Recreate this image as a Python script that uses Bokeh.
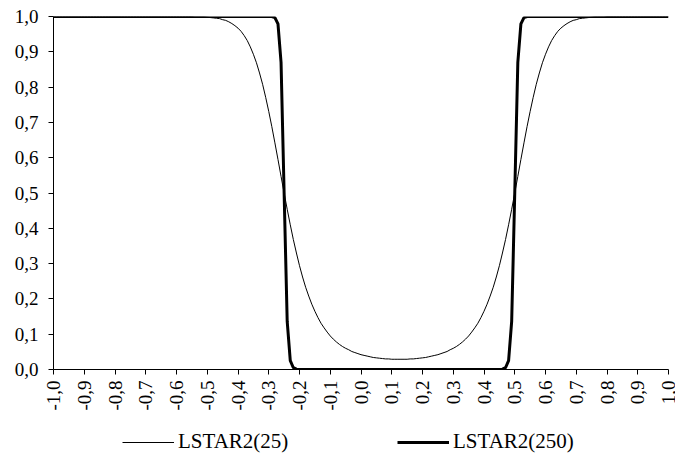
from bokeh.plotting import figure
from bokeh.layouts import column
from bokeh.models import ColumnDataSource, FixedTicker, CustomJSTickFormatter, Legend, LegendItem, Range1d
from bokeh.embed import file_html
from bokeh.resources import INLINE
import math

# category grid (-1.00 .. 1.00, step 0.01)
x_values = [round(i / 100, 2) for i in range(-100, 101)]

lstar2_25 = [
    1.0, 1.0, 1.0, 1.0, 1.0, 1.0, 1.0, 1.0, 1.0, 1.0,
    1.0, 1.0, 1.0, 1.0, 1.0, 1.0, 1.0, 1.0, 1.0, 1.0,
    1.0, 1.0, 1.0, 1.0, 1.0, 1.0, 1.0, 1.0, 1.0, 1.0,
    1.0, 1.0, 1.0, 1.0, 1.0, 1.0, 1.0, 1.0, 1.0, 1.0,
    1.000, 1.000, 1.000, 1.000, 1.000, 1.000, 0.999, 0.999, 0.999, 0.999,
    0.998, 0.997, 0.996, 0.995, 0.994, 0.991, 0.989, 0.985, 0.980, 0.974,
    0.967, 0.958, 0.946, 0.932, 0.914, 0.893, 0.869, 0.840, 0.808, 0.771,
    0.731, 0.688, 0.642, 0.595, 0.547, 0.500, 0.454, 0.410, 0.368, 0.330,
    0.294, 0.262, 0.233, 0.208, 0.185, 0.165, 0.147, 0.131, 0.118, 0.106,
    0.095, 0.086, 0.078, 0.071, 0.065, 0.060, 0.056, 0.051, 0.048, 0.045,
    0.042, 0.040, 0.038, 0.036, 0.034, 0.033, 0.032, 0.031, 0.030, 0.030,
    0.029, 0.029, 0.029, 0.029, 0.029, 0.029, 0.030, 0.030, 0.031, 0.032,
    0.033, 0.034, 0.036, 0.038, 0.040, 0.042, 0.045, 0.048, 0.051, 0.056,
    0.060, 0.065, 0.071, 0.078, 0.086, 0.095, 0.106, 0.118, 0.131, 0.147,
    0.165, 0.185, 0.208, 0.233, 0.262, 0.294, 0.330, 0.368, 0.410, 0.454,
    0.500, 0.547, 0.595, 0.642, 0.688, 0.731, 0.771, 0.808, 0.840, 0.869,
    0.893, 0.914, 0.932, 0.946, 0.958, 0.967, 0.974, 0.980, 0.985, 0.989,
    0.991, 0.994, 0.995, 0.996, 0.997, 0.998, 0.999, 0.999, 0.999, 0.999,
    1.0, 1.0, 1.0, 1.0, 1.0, 1.0, 1.0, 1.0, 1.0, 1.0,
    1.0, 1.0, 1.0, 1.0, 1.0, 1.0, 1.0, 1.0, 1.0, 1.0,
    1.0,
]

lstar2_250 = [
    1.0, 1.0, 1.0, 1.0, 1.0, 1.0, 1.0, 1.0, 1.0, 1.0,
    1.0, 1.0, 1.0, 1.0, 1.0, 1.0, 1.0, 1.0, 1.0, 1.0,
    1.0, 1.0, 1.0, 1.0, 1.0, 1.0, 1.0, 1.0, 1.0, 1.0,
    1.0, 1.0, 1.0, 1.0, 1.0, 1.0, 1.0, 1.0, 1.0, 1.0,
    1.0, 1.0, 1.0, 1.0, 1.0, 1.0, 1.0, 1.0, 1.0, 1.0,
    1.0, 1.0, 1.0, 1.0, 1.0, 1.0, 1.0, 1.0, 1.0, 1.0,
    1.0, 1.0, 1.0, 1.0, 1.0, 1.0, 1.0, 1.0, 1.0, 1.0,
    1.0, 1.0, 0.997, 0.979, 0.870, 0.500, 0.136, 0.025, 0.005, 0.001,
    0.0, 0.0, 0.0, 0.0, 0.0, 0.0, 0.0, 0.0, 0.0, 0.0,
    0.0, 0.0, 0.0, 0.0, 0.0, 0.0, 0.0, 0.0, 0.0, 0.0,
    0.0, 0.0, 0.0, 0.0, 0.0, 0.0, 0.0, 0.0, 0.0, 0.0,
    0.0, 0.0, 0.0, 0.0, 0.0, 0.0, 0.0, 0.0, 0.0, 0.0,
    0.0, 0.0, 0.0, 0.0, 0.0, 0.0, 0.0, 0.0, 0.0, 0.0,
    0.0, 0.0, 0.0, 0.0, 0.0, 0.0, 0.0, 0.0, 0.0, 0.0,
    0.0, 0.0, 0.0, 0.0, 0.0, 0.0, 0.001, 0.005, 0.025, 0.136,
    0.500, 0.870, 0.979, 0.997, 1.0, 1.0, 1.0, 1.0, 1.0, 1.0,
    1.0, 1.0, 1.0, 1.0, 1.0, 1.0, 1.0, 1.0, 1.0, 1.0,
    1.0, 1.0, 1.0, 1.0, 1.0, 1.0, 1.0, 1.0, 1.0, 1.0,
    1.0, 1.0, 1.0, 1.0, 1.0, 1.0, 1.0, 1.0, 1.0, 1.0,
    1.0, 1.0, 1.0, 1.0, 1.0, 1.0, 1.0, 1.0, 1.0, 1.0,
    1.0,
]

x_ticks = [round(i / 10, 1) for i in range(-10, 11)]
y_ticks = [round(i / 10, 1) for i in range(0, 11)]
series_labels = ["LSTAR2(25)", "LSTAR2(250)"]
series_widths = [1, 3]

FONT = "Liberation Serif"

source = ColumnDataSource(data=dict(x=x_values, g25=lstar2_25, g250=lstar2_250))

p = figure(width=675, height=424, output_backend="svg", toolbar_location=None,
           x_range=Range1d(-1.0, 1.0), y_range=Range1d(0.0, 1.0),
           min_border_left=53, min_border_right=7, min_border_top=16, min_border_bottom=55)

r1 = p.line("x", "g25", source=source, line_color="black", line_width=series_widths[0])
r2 = p.line("x", "g250", source=source, line_color="black", line_width=series_widths[1])

p.outline_line_color = None
p.xgrid.visible = False
p.ygrid.visible = False
p.background_fill_color = "white"
p.border_fill_color = "white"

fmt = CustomJSTickFormatter(code="return tick.toFixed(1).replace('.', ',');")

for ax in (p.xaxis[0], p.yaxis[0]):
    ax.formatter = fmt
    ax.axis_line_color = "black"
    ax.axis_line_width = 1
    ax.major_tick_line_color = "black"
    ax.major_tick_in = 0
    ax.major_tick_out = 5
    ax.minor_tick_line_color = None
    ax.major_label_text_font = FONT
    ax.major_label_text_font_size = "19px"
    ax.major_label_text_color = "black"

p.xaxis[0].ticker = FixedTicker(ticks=x_ticks)
p.yaxis[0].ticker = FixedTicker(ticks=y_ticks)
p.xaxis[0].major_label_orientation = math.pi / 2
p.xaxis[0].major_label_standoff = 6
p.yaxis[0].major_label_standoff = 10

# legend strip below the chart (no axes; its frame is aligned with the chart frame)
pl = figure(width=675, height=30, output_backend="svg", toolbar_location=None,
            x_range=Range1d(0, 1), y_range=Range1d(0, 1),
            x_axis_location=None, y_axis_location=None,
            min_border_left=0, min_border_right=0, min_border_top=0, min_border_bottom=0)
pl.xgrid.visible = False
pl.ygrid.visible = False
pl.outline_line_color = None
pl.background_fill_color = "white"
pl.border_fill_color = "white"

# legend-key renderers (carry only the line style, draw nothing)
nan = float("nan")
k1 = pl.line(x=[nan], y=[nan], line_color="black", line_width=series_widths[0])
k2 = pl.line(x=[nan], y=[nan], line_color="black", line_width=series_widths[1])

def make_legend(item, loc):
    return Legend(items=[item], location=loc, orientation="horizontal",
                  glyph_width=52, glyph_height=22, label_height=22,
                  label_standoff=4, padding=0, margin=0, spacing=0,
                  border_line_color=None, background_fill_alpha=0,
                  label_text_font=FONT, label_text_font_size="21px",
                  label_text_color="black")

pl.add_layout(make_legend(LegendItem(label=series_labels[0], renderers=[k1]), (69, 0)))
pl.add_layout(make_legend(LegendItem(label=series_labels[1], renderers=[k2]), (344, 0)))

layout = column(p, pl, spacing=0)

open("out.html", "w").write(file_html(layout, INLINE))
